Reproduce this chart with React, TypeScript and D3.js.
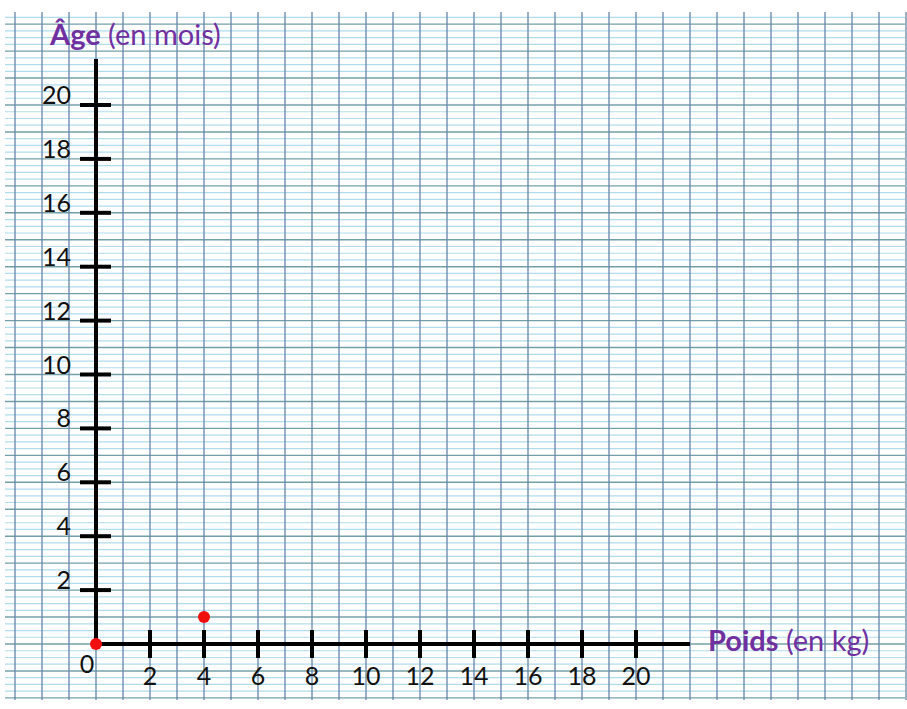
import React, { useEffect, useRef } from 'react';
import * as d3 from 'd3';

// Data
const xTicks = [2, 4, 6, 8, 10, 12, 14, 16, 18, 20];
const yTicks = [2, 4, 6, 8, 10, 12, 14, 16, 18, 20];
const points: [number, number][] = [[0, 0], [4, 1]];
const xTitleBold = 'Poids';
const xTitleRest = ' (en kg)';
const yTitleBold = 'Âge';
const yTitleRest = ' (en mois)';

const App = () => {
  const ref = useRef<SVGSVGElement | null>(null);

  useEffect(() => {
    const svgWidth = 907;
    const svgHeight = 709;
    const font = 'Lato, "Open Sans", sans-serif';
    const purple = '#7030a0';

    const svg = d3.select(ref.current);
    svg.selectAll('*').remove();
    svg.attr('width', svgWidth).attr('height', svgHeight);

    // Scales: one grid square = one unit
    const x = d3.scaleLinear().domain([0, 20]).range([96, 636]);
    const y = d3.scaleLinear().domain([0, 20]).range([644, 105]);

    // Seyes-like grid paper
    const grid = svg.append('g');
    const gridLeft = 5;
    const gridRight = 905;
    const gridTop = 12;
    const gridBottom = y(-2);

    //   minor horizontal lines
    const minor: number[] = [];
    for (let k = -2; k < 24; k += 1) {
      for (let i = 1; i < 4; i += 1) {
        const yy = y(k + i * 0.25);
        if (yy >= gridTop && yy <= gridBottom) minor.push(yy);
      }
    }
    grid.selectAll('line.minor')
      .data(minor)
      .enter()
        .append('line')
        .attr('x1', gridLeft)
        .attr('x2', gridRight)
        .attr('y1', d => d)
        .attr('y2', d => d)
        .style('stroke', '#b0dcec')
        .style('stroke-width', 1.2);

    //   major horizontal lines
    const major = d3.range(-2, 24).filter(k => y(k) >= gridTop);
    grid.selectAll('line.major')
      .data(major)
      .enter()
        .append('line')
        .attr('x1', gridLeft)
        .attr('x2', gridRight)
        .attr('y1', d => y(d))
        .attr('y2', d => y(d))
        .style('stroke', '#73a0a8')
        .style('stroke-width', 1.4);

    //   vertical lines
    grid.selectAll('line.vert')
      .data(d3.range(-3, 31))
      .enter()
        .append('line')
        .attr('x1', d => x(d))
        .attr('x2', d => x(d))
        .attr('y1', gridTop)
        .attr('y2', gridBottom + 2)
        .style('stroke', '#6486a8')
        .style('stroke-width', 1.3);

    // Axes
    const axisStroke = '#000';
    svg.append('line')
      .attr('x1', x(0))
      .attr('x2', x(0))
      .attr('y1', 59)
      .attr('y2', y(0))
      .style('stroke', axisStroke)
      .style('stroke-width', 4);

    svg.append('line')
      .attr('x1', x(0))
      .attr('x2', 690)
      .attr('y1', y(0))
      .attr('y2', y(0))
      .style('stroke', axisStroke)
      .style('stroke-width', 4);

    // x ticks
    svg.append('g')
      .selectAll('line')
      .data(xTicks)
      .enter()
        .append('line')
        .attr('x1', d => x(d))
        .attr('x2', d => x(d))
        .attr('y1', y(0) - 14)
        .attr('y2', y(0) + 14)
        .style('stroke', axisStroke)
        .style('stroke-width', 4);

    svg.append('g')
      .selectAll('text')
      .data(xTicks)
      .enter()
        .append('text')
        .text(d => d)
        .attr('x', d => x(d))
        .attr('y', 685)
        .attr('text-anchor', 'middle')
        .attr('font-family', font)
        .attr('font-size', '25px')
        .attr('fill', '#111');

    // y ticks
    svg.append('g')
      .selectAll('line')
      .data(yTicks)
      .enter()
        .append('line')
        .attr('x1', x(0) - 16)
        .attr('x2', x(0) + 15)
        .attr('y1', d => y(d))
        .attr('y2', d => y(d))
        .style('stroke', axisStroke)
        .style('stroke-width', 4);

    svg.append('g')
      .selectAll('text')
      .data(yTicks)
      .enter()
        .append('text')
        .text(d => d)
        .attr('x', 71)
        .attr('y', d => y(d) - 1)
        .attr('text-anchor', 'end')
        .attr('font-family', font)
        .attr('font-size', '25px')
        .attr('fill', '#111');

    // origin label
    svg.append('text')
      .text('0')
      .attr('x', 87)
      .attr('y', 673)
      .attr('text-anchor', 'middle')
      .attr('font-family', font)
      .attr('font-size', '25px')
      .attr('fill', '#111');

    // Axis titles
    const yTitle = svg.append('text')
      .attr('x', 50)
      .attr('y', 45)
      .attr('font-family', font)
      .attr('font-size', '29px')
      .attr('fill', purple);
    yTitle.append('tspan').attr('font-weight', 'bold').text(yTitleBold);
    yTitle.append('tspan').text(yTitleRest);

    const xTitle = svg.append('text')
      .attr('x', 708)
      .attr('y', 651)
      .attr('font-family', font)
      .attr('font-size', '29px')
      .attr('fill', purple);
    xTitle.append('tspan').attr('font-weight', 'bold').text(xTitleBold);
    xTitle.append('tspan').text(xTitleRest);

    // Points
    svg.append('g')
      .selectAll('circle')
      .data(points)
      .enter()
        .append('circle')
        .attr('cx', d => x(d[0]))
        .attr('cy', d => y(d[1]))
        .attr('r', 6)
        .style('fill', '#f00f0f');
  }, []);

  return (
    <div style={{ position: 'absolute', left: 0, top: 0, background: '#fff' }}>
      <svg ref={ref} style={{ display: 'block' }} />
    </div>
  );
};

export default App;
